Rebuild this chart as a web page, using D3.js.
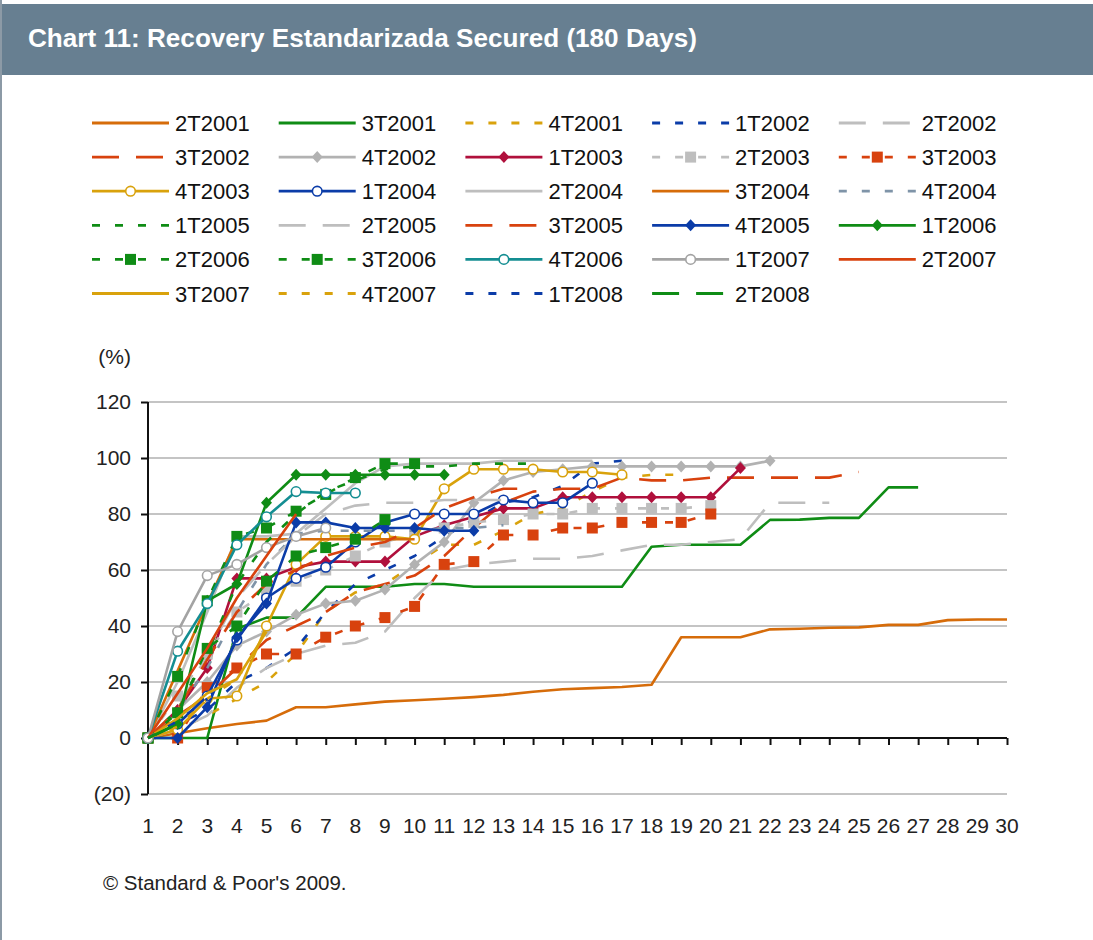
<!DOCTYPE html>
<html><head><meta charset="utf-8">
<script src="https://cdn.jsdelivr.net/npm/d3@7"></script>
<style>
html,body{margin:0;padding:0;background:#fff;}
svg{display:block;font-family:"Liberation Sans",Arial,sans-serif;}
</style></head>
<body>
<svg id="chart" width="1093" height="940"></svg>
<script>
// ---------- data ----------
const categories = d3.range(1, 31);
const yTicks = [-20, 0, 20, 40, 60, 80, 100, 120];
const seriesNames = ["2T2001","3T2001","4T2001","1T2002","2T2002","3T2002","4T2002","1T2003","2T2003","3T2003",
  "4T2003","1T2004","2T2004","3T2004","4T2004","1T2005","2T2005","3T2005","4T2005","1T2006",
  "2T2006","3T2006","4T2006","1T2007","2T2007","3T2007","4T2007","1T2008","2T2008"];

const s2T2001 = [0,1.7,3.5,5,6.2,11,11,12,13,13.5,14,14.6,15.4,16.5,17.4,17.8,18.2,19,36,36,36,38.8,39,39.4,39.5,40.4,40.4,42.1,42.3,42.3];
const s3T2001 = [0,0,0,39,43,43,54,54,54,55,55,54,54,54,54,54,54,68.3,69,69,69,77.9,78,78.6,78.6,89.5,89.5];
const s4T2001 = [0,3,8,14,20,30,45,52,55,62,69,69,74,80,82,88,93,94,94];
const s1T2002 = [0,5,10,20,25,32,45,55,60,65,72,78,84,86,90,98,99];
const s2T2002 = [0,3,8,18,25,30,33,34,38,50,60,62,63,64,64,65,67,69,69,70,71,84,84,84];
const s3T2002 = [0,8,15,25,35,40,45,52,55,58,65,75,84,88,89,89,93,92,92,93,93,93,93,93,95];
const s4T2002 = [0,10,20,33,38,44,48,49,53,62,70,84,92,95,96,97,97,97,97,97,97,99];
const s1T2003 = [0,10,25,57,57,61,63,63,63,72,76,79,82,82,86,86,86,86,86,86,96.4];
const s2T2003 = [0,15,30,45,52,56,60,65,70,73,75,77,78,80,80,82,82,82,82,83];
const s3T2003 = [0,0,18,25,30,30,36,40,43,47,62,63,72.5,72.5,75,75,77,77,77,80];
const s4T2003 = [0,3,14,15,40,62,72,72,72,71,89,96,96,96,95,95,94];
const s1T2004 = [0,5,15,35,50,57,61,70,77,80,80,80,85,84,84,91];
const s2T2004 = [0,20,45,72,72,73,82,91,97,98,98,98,99,99,99,99];
const s3T2004 = [0,24,48,71,71,71,71,71,71,71];
const s4T2004 = [0,10,25,45,62,73,74,74,74,74,75,75,76];
const s1T2005 = [0,10,30,55,70,80,88,92,96,97,97,98,98,98];
const s2T2005 = [0,10,30,50,62,72,80,83,84,84,85,85,85];
const s3T2005 = [0,10,28,45,55,60,65,68,70,75,82,86,89,89];
const s4T2005 = [0,0,11,36,48,77,77,75,75,75,74,74];
const s1T2006 = [0,5,49,55,84,94,94,94,94,94,94];
const s2T2006 = [0,22,49,72,75,81,87,93,98,98];
const s3T2006 = [0,9,32,40,56,65,68,71,78];
const s4T2006 = [0,31,48,69,79,88,87.5,87.5];
const s1T2007 = [0,38,58,62,68,72,75];
const s2T2007 = [0,16,32,50,65,80];
const s3T2007 = [0,7,16,21,38];
const s4T2007 = [0,4,14,21];
const s1T2008 = [0,6,14];
const s2T2008 = [0,5];

const seriesValues = [s2T2001,s3T2001,s4T2001,s1T2002,s2T2002,s3T2002,s4T2002,s1T2003,s2T2003,s3T2003,
  s4T2003,s1T2004,s2T2004,s3T2004,s4T2004,s1T2005,s2T2005,s3T2005,s4T2005,s1T2006,
  s2T2006,s3T2006,s4T2006,s1T2007,s2T2007,s3T2007,s4T2007,s1T2008,s2T2008];

// ---------- styles ----------
const ORANGE="#D66C0A", RED="#D8420E", GREEN="#0F8C15", GOLD="#D9A20C", BLUE="#0B3CA8",
      CRIMSON="#B0103C", LGRAY="#BEBEBE", MGRAY="#B2B2B2", DGRAY="#A3A3A3", TEAL="#148E92", BGRAY="#7F94A8";
const SHORT="8,15", LONG="27,17";
const styles = [
  {c:ORANGE,d:null,m:null},{c:GREEN,d:null,m:null},{c:GOLD,d:SHORT,m:null},{c:BLUE,d:SHORT,m:null},{c:LGRAY,d:LONG,m:null},
  {c:RED,d:LONG,m:null},{c:MGRAY,d:null,m:"diamond"},{c:CRIMSON,d:null,m:"diamond"},{c:LGRAY,d:SHORT,m:"square"},{c:RED,d:SHORT,m:"square"},
  {c:GOLD,d:null,m:"circle"},{c:BLUE,d:null,m:"circle"},{c:LGRAY,d:null,m:null},{c:ORANGE,d:null,m:null},{c:BGRAY,d:SHORT,m:null},
  {c:GREEN,d:SHORT,m:null},{c:LGRAY,d:LONG,m:null},{c:RED,d:LONG,m:null},{c:BLUE,d:null,m:"diamond"},{c:GREEN,d:null,m:"diamond"},
  {c:GREEN,d:SHORT,m:"square"},{c:GREEN,d:SHORT,m:"square"},{c:TEAL,d:null,m:"circle"},{c:DGRAY,d:null,m:"circle"},{c:RED,d:null,m:null},
  {c:GOLD,d:null,m:null},{c:GOLD,d:SHORT,m:null},{c:BLUE,d:SHORT,m:null},{c:GREEN,d:LONG,m:null}
];

// ---------- layout ----------
const svg = d3.select("#chart");
svg.append("rect").attr("width",1093).attr("height",940).attr("fill","#fff");
// title band
svg.append("rect").attr("x",2).attr("y",4).attr("width",1091).attr("height",71).attr("fill","#677F91");
svg.append("line").attr("x1",1).attr("x2",1).attr("y1",0).attr("y2",940).attr("stroke","#8C9AA6").attr("stroke-width",2);
svg.append("text").attr("x",28).attr("y",47)
  .attr("fill","#fff").attr("font-weight","bold").attr("font-size",25)
  .attr("font-family","'Liberation Sans Narrow','Arial Narrow','Liberation Sans',Arial,sans-serif")
  .attr("textLength",669).attr("lengthAdjust","spacingAndGlyphs")
  .text("Chart 11: Recovery Estandarizada Secured (180 Days)");

const x = d3.scalePoint().domain(categories).range([148,1007]);
const y = d3.scaleLinear().domain([-20,120]).range([794,402]);

// gridlines
svg.append("g").selectAll("line").data(yTicks.filter(v=>v!==0)).join("line")
  .attr("x1",148).attr("x2",1007).attr("y1",d=>y(d)).attr("y2",d=>y(d))
  .attr("stroke","#C4C4C4").attr("stroke-width",2);

// y axis
const yAxis = svg.append("g").attr("transform","translate(148,0)")
  .call(d3.axisLeft(y).tickValues(yTicks).tickSize(7).tickPadding(10)
    .tickFormat(d => d<0 ? "("+(-d)+")" : d));
yAxis.select(".domain").attr("stroke","#111").attr("stroke-width",2).attr("d","M0,402V794");
yAxis.selectAll(".tick line").attr("stroke","#111").attr("stroke-width",2);
yAxis.selectAll("text").attr("font-size",21).attr("fill","#222")
  .attr("font-family","'Liberation Sans',Arial,sans-serif");

// x axis at zero
const xAxis = svg.append("g").attr("transform",`translate(0,${y(0)})`)
  .call(d3.axisBottom(x).tickValues(categories.slice(1)).tickSize(7).tickFormat(""));
xAxis.select(".domain").attr("stroke","#111").attr("stroke-width",2).attr("d","M148,0H1007");
xAxis.selectAll(".tick line").attr("stroke","#111").attr("stroke-width",2);

// x labels (low position)
svg.append("g").selectAll("text").data(categories).join("text")
  .attr("x",d=>x(d)).attr("y",833).attr("text-anchor","middle")
  .attr("font-size",21).attr("fill","#222").text(d=>d);

svg.append("text").attr("x",131).attr("y",364).attr("text-anchor","end")
  .attr("font-size",21).attr("fill","#222").text("(%)");
svg.append("text").attr("x",103).attr("y",890)
  .attr("font-size",20.5).attr("fill","#222").text("\u00A9 Standard & Poor's 2009.");

// markers
function drawMarker(g, m, color, cx, cy){
  if(m==="diamond"){
    g.append("path").attr("d",`M${cx},${cy-6}L${cx+5.5},${cy}L${cx},${cy+6}L${cx-5.5},${cy}Z`).attr("fill",color);
  } else if(m==="square"){
    g.append("rect").attr("x",cx-5.5).attr("y",cy-5.5).attr("width",11).attr("height",11).attr("fill",color);
  } else if(m==="circle"){
    g.append("circle").attr("cx",cx).attr("cy",cy).attr("r",4.8).attr("fill","#fff").attr("stroke",color).attr("stroke-width",1.6);
  }
}

// series
const line = d3.line().x((d,i)=>x(categories[i])).y(d=>y(d));
const plot = svg.append("g");
seriesNames.forEach((name,k)=>{
  const st = styles[k], vals = seriesValues[k];
  const g = plot.append("g");
  g.append("path").attr("d",line(vals)).attr("fill","none").attr("stroke",st.c)
    .attr("stroke-width",2.6).attr("stroke-dasharray",st.d).attr("stroke-linejoin","round");
  if(st.m) vals.forEach((v,i)=>drawMarker(g,st.m,st.c,x(categories[i]),y(v)));
});

// legend
const leg = svg.append("g");
seriesNames.forEach((name,k)=>{
  const col = k%5, row = Math.floor(k/5);
  const x0 = 92 + col*186.7, yc = 123 + row*34.1;
  const st = styles[k];
  leg.append("line").attr("x1",x0).attr("x2",x0+77).attr("y1",yc).attr("y2",yc)
    .attr("stroke",st.c).attr("stroke-width",2.8).attr("stroke-dasharray",st.d);
  if(st.m) drawMarker(leg,st.m,st.c,x0+38.5,yc);
  leg.append("text").attr("x",x0+83).attr("y",yc+8).attr("font-size",22).attr("fill","#111").text(name);
});
</script>
</body></html>
